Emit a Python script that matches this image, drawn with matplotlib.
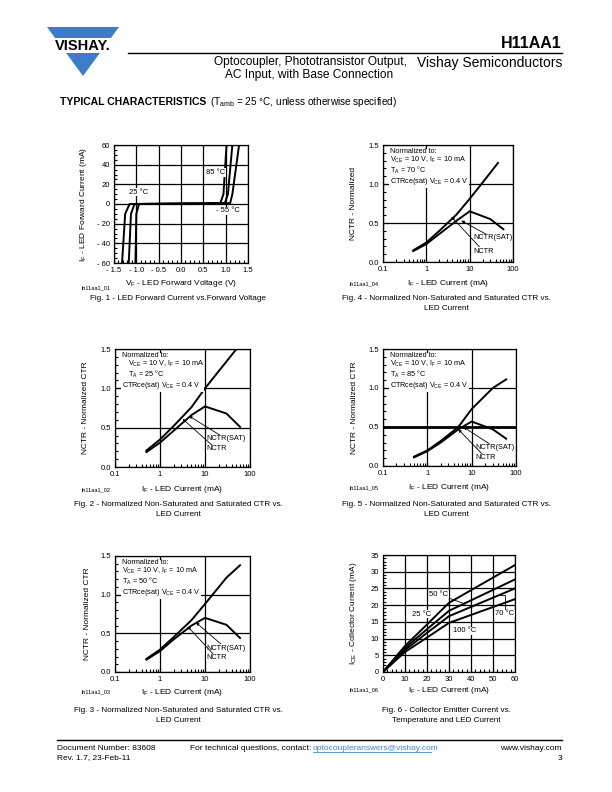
# H11AA1 datasheet page 3 - typical characteristics
import matplotlib.pyplot as plt
from matplotlib.patches import Polygon, Rectangle
from matplotlib.ticker import MultipleLocator, NullFormatter, LogLocator

plt.rcParams['font.family'] = ['Liberation Sans', 'DejaVu Sans']
plt.rcParams['mathtext.default'] = 'regular'

W, H = 612, 792

# Fig. 1 - forward current vs forward voltage (one curve per temperature)
if_knee = [-60, -10, 0, 0.8, 10, 60]
vf_85 = [-1.02, -1.00, -0.94, 0.88, 0.95, 1.02]
vf_25 = [-1.17, -1.12, -1.04, 0.98, 1.05, 1.15]
vf_m55 = [-1.32, -1.25, -1.15, 1.10, 1.15, 1.30]
vf_ticks = [-1.5, -1.0, -0.5, 0.0, 0.5, 1.0, 1.5]
vf_labels = ["- 1.5", "- 1.0", "- 0.5", "0.0", "0.5", "1.0", "1.5"]
if_ticks = [-60, -40, -20, 0, 20, 40, 60]
if_labels = ["- 60", "- 40", "- 20", "0", "20", "40", "60"]

# Normalized CTR curves (Fig. 2 - 5)
f2_if = [0.5, 1, 2, 5, 10, 50]
f2_nctr = [0.21, 0.35, 0.52, 0.76, 1.0, 1.5]
f2_sat_if = [0.5, 1, 2, 5, 10, 30, 60]
f2_sat = [0.19, 0.31, 0.46, 0.66, 0.77, 0.68, 0.51]

f3_if = [0.5, 1, 2, 5, 10, 30, 60]
f3_nctr = [0.17, 0.29, 0.45, 0.67, 0.88, 1.22, 1.38]
f3_sat_if = [0.5, 1, 2, 5, 10, 30, 60]
f3_sat = [0.16, 0.27, 0.42, 0.60, 0.70, 0.61, 0.44]

f4_if = [0.5, 1, 2, 5, 10, 20, 45]
f4_nctr = [0.15, 0.25, 0.40, 0.61, 0.81, 1.02, 1.27]
f4_sat_if = [0.5, 1, 2, 5, 10, 30, 60]
f4_sat = [0.14, 0.23, 0.36, 0.53, 0.65, 0.55, 0.42]

f5_if = [0.5, 1, 2, 5, 10, 30, 60]
f5_nctr = [0.12, 0.20, 0.32, 0.50, 0.73, 1.0, 1.11]
f5_sat_if = [0.5, 1, 2, 5, 10, 30, 60]
f5_sat = [0.11, 0.19, 0.30, 0.47, 0.57, 0.47, 0.35]

log_ticks = [0.1, 1, 10, 100]
log_labels = ["0.1", "1", "10", "100"]
nctr_ticks = [0.0, 0.5, 1.0, 1.5]
nctr_labels = ["0.0", "0.5", "1.0", "1.5"]

# Fig. 6 - collector current vs LED current
ce_if = [0, 10, 20, 30, 60]
ice_25 = [0, 7.8, 14.2, 20.7, 32.0]
ice_50 = [0, 7.2, 12.8, 18.3, 27.7]
ice_70 = [0, 6.6, 11.7, 16.7, 25.0]
ice_100 = [0, 6.0, 10.3, 14.7, 21.8]

fig = plt.figure(figsize=(W / 100, H / 100), dpi=100)

# decoration layer in pixel coordinates
deco = fig.add_axes([0, 0, 1, 1])
deco.set_xlim(0, W)
deco.set_ylim(H, 0)
deco.axis("off")


def box(l, r, t, b):
    return fig.add_axes([l / W, 1 - b / H, (r - l) / W, (b - t) / H])


def style(ax):
    for s in ax.spines.values():
        s.set_linewidth(0.9)
    ax.tick_params(which="both", direction="in", top=False, right=False,
                   labelsize=5.5, width=0.8, pad=3)
    ax.tick_params(which="major", length=3)
    ax.tick_params(which="minor", length=2)
    ax.grid(True, which="major", color="black", linewidth=0.9)
    ax.set_axisbelow(True)


# ---- header ----
deco.add_patch(Polygon([(47, 27), (119, 27), (83, 76)], closed=True,
                       facecolor="#3d7cc9", edgecolor="none"))
deco.add_patch(Rectangle((40, 38), 85, 15, facecolor="white", edgecolor="none"))
deco.text(83, 46, "VISHAY.", fontsize=10.5, fontweight="heavy", ha="center",
          va="center")
deco.text(562, 44, "H11AA1", fontsize=11.5, fontweight="bold", ha="right",
          va="center")
deco.plot([128, 562], [53, 53], color="black", linewidth=1)
deco.text(407, 62, "Optocoupler, Phototransistor Output,", fontsize=8.6,
          ha="right", va="center")
deco.text(225, 75, "AC Input, with Base Connection", fontsize=8.6, ha="left",
          va="center")
deco.text(562, 63, "Vishay Semiconductors", fontsize=10, ha="right",
          va="center")
deco.text(60, 102, "TYPICAL CHARACTERISTICS", fontsize=7.5, fontweight="heavy",
          ha="left", va="center")
deco.text(210, 102, "(T$_{amb}$ = 25 °C, unless otherwise specified)",
          fontsize=7.2, ha="left", va="center")

# ---- Fig. 1 ----
ax1 = box(114, 248, 145, 263)
style(ax1)
for v in (vf_85, vf_25, vf_m55):
    ax1.plot(v, if_knee, color="black", linewidth=1.4)
ax1.set_xlim(-1.5, 1.5)
ax1.set_ylim(-60, 60)
ax1.set_xticks(vf_ticks)
ax1.set_xticklabels(vf_labels)
ax1.set_yticks(if_ticks)
ax1.set_yticklabels(if_labels)
ax1.xaxis.set_minor_locator(MultipleLocator(0.1))
ax1.yaxis.set_minor_locator(MultipleLocator(5))
ax1.text(0.57, 32, "85 °C", fontsize=5.5, va="center",
         bbox=dict(facecolor="white", edgecolor="none", pad=0.5))
ax1.text(-1.17, 12, "25 °C", fontsize=5.5, va="center",
         bbox=dict(facecolor="white", edgecolor="none", pad=0.5))
ax1.text(0.79, -7, "- 55 °C", fontsize=5.5, va="center",
         bbox=dict(facecolor="white", edgecolor="none", pad=0.5))
ax1.set_xlabel("V$_F$ - LED Forward Voltage (V)", fontsize=6)
ax1.set_ylabel("I$_F$ - LED Forward Current (mA)", fontsize=6)
ax1.xaxis.set_label_coords(0.5, -0.13)
ax1.yaxis.set_label_coords(-0.19, 0.5)


# ---- NCTR figures ----
def nctr_plot(ax, x1, y1, x2, y2, temp, indent, sat_txt, sat_tip, nc_txt, nc_tip):
    style(ax)
    ax.set_xscale("log")
    ax.plot(x1, y1, color="black", linewidth=1.4)
    ax.plot(x2, y2, color="black", linewidth=1.4)
    ax.set_xlim(0.1, 100)
    ax.set_ylim(0, 1.5)
    ax.set_xticks(log_ticks)
    ax.set_xticklabels(log_labels)
    ax.xaxis.set_minor_locator(LogLocator(base=10, subs=range(2, 10)))
    ax.xaxis.set_minor_formatter(NullFormatter())
    ax.set_yticks(nctr_ticks)
    ax.set_yticklabels(nctr_labels)
    ax.yaxis.set_minor_locator(MultipleLocator(0.1))
    pre = "   " if indent else ""
    note = "\n".join(["Normalized to:",
                      pre + "V$_{CE}$ = 10 V, I$_F$ = 10 mA",
                      pre + "T$_A$ = %d °C" % temp,
                      "CTRce(sat) V$_{CE}$ = 0.4 V"])
    ax.text(0.05, 0.975, note, transform=ax.transAxes, fontsize=5.2,
            va="top", linespacing=1.0,
            bbox=dict(facecolor="white", edgecolor="none", pad=0.5))
    arrow = dict(arrowstyle="-|>", color="black", linewidth=0.6,
                 mutation_scale=4, shrinkA=0, shrinkB=0)
    ax.annotate("NCTR(SAT)", xy=sat_tip, xytext=sat_txt, fontsize=5.3,
                va="center", arrowprops=arrow,
                bbox=dict(facecolor="white", edgecolor="none", pad=0.1))
    ax.annotate("NCTR", xy=nc_tip, xytext=nc_txt, fontsize=5.3,
                va="center", arrowprops=arrow,
                bbox=dict(facecolor="white", edgecolor="none", pad=0.1))
    ax.set_xlabel("I$_F$ - LED Current (mA)", fontsize=6)


ax4 = box(383, 513, 145, 262)
nctr_plot(ax4, f4_if, f4_nctr, f4_sat_if, f4_sat, 70, False,
          (12, 0.31), (6.4, 0.53), (12, 0.14), (3.8, 0.58))
ax4.set_ylabel("NCTR - Normalized", fontsize=6)
ax4.xaxis.set_label_coords(0.5, -0.14)
ax4.yaxis.set_label_coords(-0.2, 0.5)

ax2 = box(115, 250, 349, 467)
nctr_plot(ax2, f2_if, f2_nctr, f2_sat_if, f2_sat, 25, True,
          (10.5, 0.36), (4.4, 0.65), (10.5, 0.23), (3.2, 0.61))
ax2.set_ylabel("NCTR - Normalized CTR", fontsize=6)
ax2.xaxis.set_label_coords(0.5, -0.14)
ax2.yaxis.set_label_coords(-0.19, 0.5)

ax5 = box(383, 516, 349, 466)
nctr_plot(ax5, f5_if, f5_nctr, f5_sat_if, f5_sat, 85, False,
          (12, 0.24), (6.5, 0.5), (12, 0.11), (5.0, 0.47))
ax5.axhline(0.5, color="black", linewidth=2)
ax5.set_ylabel("NCTR - Normalized CTR", fontsize=6)
ax5.xaxis.set_label_coords(0.5, -0.14)
ax5.yaxis.set_label_coords(-0.19, 0.5)

ax3 = box(115, 250, 556, 672)
nctr_plot(ax3, f3_if, f3_nctr, f3_sat_if, f3_sat, 50, False,
          (10.5, 0.31), (6.3, 0.64), (10.5, 0.19), (4.1, 0.59))
ax3.set_ylabel("NCTR - Normalized CTR", fontsize=6)
ax3.xaxis.set_label_coords(0.5, -0.13)
ax3.yaxis.set_label_coords(-0.18, 0.5)

# ---- Fig. 6 ----
ax6 = box(383, 515, 555, 672)
style(ax6)
for ice in (ice_25, ice_50, ice_70, ice_100):
    ax6.plot(ce_if, ice, color="black", linewidth=1.4)
ax6.set_xlim(0, 60)
ax6.set_ylim(0, 35)
ax6.xaxis.set_major_locator(MultipleLocator(10))
ax6.yaxis.set_major_locator(MultipleLocator(5))
ax6.xaxis.set_minor_locator(MultipleLocator(2))
ax6.yaxis.set_minor_locator(MultipleLocator(1))
lab = dict(fontsize=5.5, va="center",
           bbox=dict(facecolor="white", edgecolor="none", pad=0.3))
ax6.annotate("50 °C", xy=(37.5, 20.3), xytext=(21, 23.2),
             arrowprops=dict(arrowstyle="-", color="black", linewidth=0.6,
                             shrinkA=0, shrinkB=0), **lab)
ax6.text(13.4, 17.3, "25 °C", **lab)
ax6.text(32, 12.3, "100 °C", **lab)
ax6.annotate("70 °C", xy=(53, 23.0), xytext=(51, 17.5),
             arrowprops=dict(arrowstyle="-", color="black", linewidth=0.6,
                             shrinkA=0, shrinkB=0,
                             connectionstyle="angle,angleA=90,angleB=0"),
             **lab)
ax6.set_xlabel("I$_F$ - LED Current (mA)", fontsize=6)
ax6.set_ylabel("I$_{CE}$ - Collector Current (mA)", fontsize=6)
ax6.xaxis.set_label_coords(0.5, -0.11)
ax6.yaxis.set_label_coords(-0.18, 0.5)

# ---- figure ids and captions ----
cap = dict(fontsize=5.9, ha="center", va="center")
ids = dict(fontsize=4.1, ha="left", va="center")
deco.text(82, 288, "ih11aa1_01", **ids)
deco.text(178, 299, "Fig. 1 - LED Forward Current vs.Forward Voltage", **cap)
deco.text(350, 284, "ih11aa1_04", **ids)
deco.text(446, 299, "Fig. 4 - Normalized Non-Saturated and Saturated CTR vs.",
          **cap)
deco.text(446, 309, "LED Current", **cap)
deco.text(82, 490, "ih11aa1_02", **ids)
deco.text(178, 504, "Fig. 2 - Normalized Non-Saturated and Saturated CTR vs.",
          **cap)
deco.text(178, 514, "LED Current", **cap)
deco.text(350, 488, "ih11aa1_05", **ids)
deco.text(446, 504, "Fig. 5 - Normalized Non-Saturated and Saturated CTR vs.",
          **cap)
deco.text(446, 514, "LED Current", **cap)
deco.text(82, 692, "ih11aa1_03", **ids)
deco.text(178, 711, "Fig. 3 - Normalized Non-Saturated and Saturated CTR vs.",
          **cap)
deco.text(178, 721, "LED Current", **cap)
deco.text(350, 690, "ih11aa1_06", **ids)
deco.text(446, 711, "Fig. 6 - Collector Emitter Current vs.", **cap)
deco.text(446, 721, "Temperature and LED Current", **cap)

# ---- footer ----
deco.plot([57, 562], [740, 740], color="black", linewidth=1)
foot = dict(fontsize=6, va="center")
deco.text(57, 748, "Document Number: 83608", ha="left", **foot)
deco.text(57, 758, "Rev. 1.7, 23-Feb-11", ha="left", **foot)
deco.text(190, 748, "For technical questions, contact: ", ha="left", **foot)
deco.text(313, 748, "optocoupleranswers@vishay.com", ha="left",
          color="#3a86d0", **foot)
deco.plot([313, 431], [752, 752], color="#3a86d0", linewidth=0.6)
deco.text(562, 748, "www.vishay.com", ha="right", **foot)
deco.text(562, 758, "3", ha="right", **foot)

fig.savefig("out.png", dpi=100)
